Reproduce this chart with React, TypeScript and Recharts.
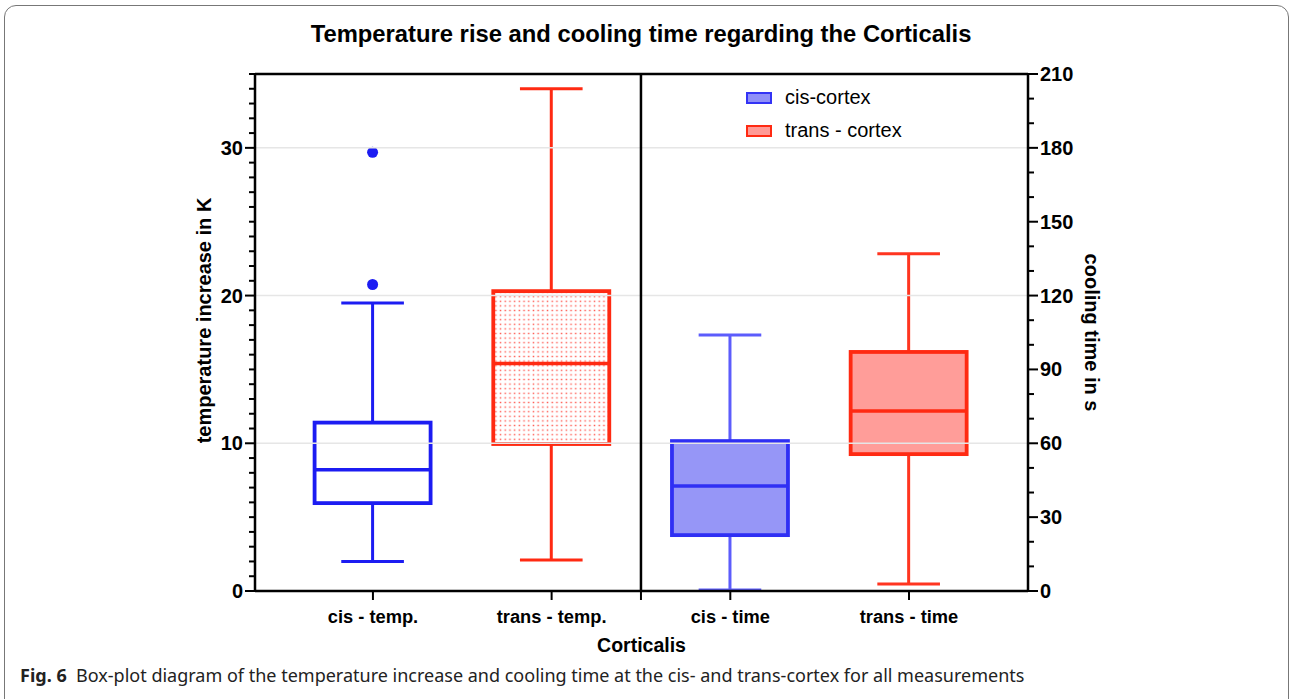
import React from 'react'
import { ComposedChart, Bar, XAxis, YAxis, ReferenceLine, Legend, Label } from 'recharts'

// box-plot values
const categories = ['cis - temp.', 'trans - temp.', 'cis - time', 'trans - time']
const sides = ['temp', 'temp', 'time', 'time']
const whiskerLow = [2.0, 2.1, 0.4, 2.8]
const quartile1 = [5.95, 9.95, 22.7, 55.6]
const medians = [8.2, 15.4, 42.6, 73.1]
const quartile3 = [11.4, 20.3, 60.9, 97.1]
const whiskerHigh = [19.5, 34.0, 104, 137]
const outliers = [[20.75, 29.7], [], [], []]

const leftTicks = [0, 1, 2, 3, 4, 5, 6, 7, 8, 9, 10, 11, 12, 13, 14, 15, 16, 17, 18, 19, 20, 21, 22, 23, 24, 25, 26, 27, 28, 29, 30, 31, 32, 33, 34, 35]
const leftLabels = [0, 10, 20, 30]
const rightTicks = [0, 10, 20, 30, 40, 50, 60, 70, 80, 90, 100, 110, 120, 130, 140, 150, 160, 170, 180, 190, 200, 210]
const rightLabels = [0, 30, 60, 90, 120, 150, 180, 210]
const gridValues = [10, 20, 30]
const legendItems = ['cis-cortex', 'trans - cortex']

const data = categories.map((name, i) => ({
  pos: i,
  name,
  side: sides[i],
  low: whiskerLow[i],
  q1: quartile1[i],
  median: medians[i],
  q3: quartile3[i],
  high: whiskerHigh[i],
  outliers: outliers[i],
  tempRange: sides[i] === 'temp' ? [whiskerLow[i], whiskerHigh[i]] : null,
  timeRange: sides[i] === 'time' ? [whiskerLow[i], whiskerHigh[i]] : null,
}))

const FONT = '"Liberation Sans", Arial, Helvetica, sans-serif'

const boxStyles = [
  { stroke: '#1c1cf2', whisker: '#1c1cf2', fill: '#ffffff' },
  { stroke: '#ff2a12', whisker: '#ff2a12', fill: 'url(#dotFill)' },
  { stroke: '#2f2ff4', whisker: '#5c5cfc', fill: '#9696f7' },
  { stroke: '#ff2a12', whisker: '#ff3520', fill: '#ff9d99' },
]
const legendStyles = [
  { stroke: '#3333f5', fill: '#8f8ff8' },
  { stroke: '#ff2a12', fill: '#ff9a96' },
]

function BoxShape(props: any) {
  const { x, y, width, height, payload, side } = props
  if (!payload || payload.side !== side || !isFinite(height) || height === 0) return <g />
  const st = boxStyles[payload.pos]
  const top = Math.min(y, y + height)
  const k = Math.abs(height) / (payload.high - payload.low)
  const py = (v: number) => top + (payload.high - v) * k
  const cx = x + width / 2
  const cap = width * 0.27
  return (
    <g>
      <defs>
        <pattern id="dotFill" width="4.7" height="4.6" patternUnits="userSpaceOnUse">
          <rect width="4.7" height="4.6" fill="#ffffff" />
          <rect x="1.6" y="1.6" width="1.5" height="1.4" fill="#ff5a50" />
        </pattern>
      </defs>
      <line x1={cx} x2={cx} y1={py(payload.high)} y2={py(payload.q3)} stroke={st.whisker} strokeWidth={3} />
      <line x1={cx} x2={cx} y1={py(payload.q1)} y2={py(payload.low)} stroke={st.whisker} strokeWidth={3} />
      <line x1={cx - cap} x2={cx + cap} y1={py(payload.high)} y2={py(payload.high)} stroke={st.whisker} strokeWidth={3} />
      <line x1={cx - cap} x2={cx + cap} y1={py(payload.low)} y2={py(payload.low)} stroke={st.whisker} strokeWidth={3} />
      <rect x={x} y={py(payload.q3)} width={width} height={py(payload.q1) - py(payload.q3)} fill={st.fill} stroke={st.stroke} strokeWidth={3.8} />
      <line x1={x} x2={x + width} y1={py(payload.median)} y2={py(payload.median)} stroke={st.stroke} strokeWidth={3.5} />
      {payload.outliers.map((v: number, j: number) => (
        <circle key={j} cx={cx} cy={py(v)} r={5.5} fill={st.stroke} />
      ))}
    </g>
  )
}

function LeftTick(props: any) {
  const { x, y, payload } = props
  const major = leftLabels.includes(payload.value)
  return (
    <g>
      <line x1={x} x2={x - (major ? 10 : 6)} y1={y} y2={y} stroke="#000" strokeWidth={2} />
      {major && (
        <text x={x - 12} y={y + 7} textAnchor="end" fontFamily={FONT} fontWeight="bold" fontSize={20} fill="#000">
          {payload.value}
        </text>
      )}
    </g>
  )
}

function RightTick(props: any) {
  const { x, y, payload } = props
  const major = rightLabels.includes(payload.value)
  return (
    <g>
      <line x1={x} x2={x + (major ? 10 : 6)} y1={y} y2={y} stroke="#000" strokeWidth={2} />
      {major && (
        <text x={x + 12} y={y + 7} textAnchor="start" fontFamily={FONT} fontWeight="bold" fontSize={20} fill="#000">
          {payload.value}
        </text>
      )}
    </g>
  )
}

function BottomTick(props: any) {
  const { x, y, payload } = props
  const label = Number.isInteger(payload.value) ? categories[payload.value] : ''
  return (
    <g>
      <line x1={x} x2={x} y1={y} y2={y + 9} stroke="#000" strokeWidth={2} />
      <text x={x} y={y + 32} textAnchor="middle" fontFamily={FONT} fontWeight="bold" fontSize={18.3} fill="#000">
        {label}
      </text>
    </g>
  )
}

function LegendBox() {
  return (
    <div style={{ fontFamily: FONT, fontSize: 20, color: '#000' }}>
      {legendItems.map((name, i) => (
        <div key={name} style={{ display: 'flex', alignItems: 'center', height: 33 }}>
          <div
            style={{
              width: 22,
              height: 8,
              background: legendStyles[i].fill,
              border: `2.5px solid ${legendStyles[i].stroke}`,
              marginRight: 13,
            }}
          />
          <span>{name}</span>
        </div>
      ))}
    </div>
  )
}

export default function App() {
  return (
    <div style={{ position: 'absolute', left: 0, top: 0, width: 1290, height: 699, overflow: 'hidden', background: '#fff' }}>
      <div
        style={{
          position: 'absolute',
          left: 4,
          top: 5,
          width: 1285,
          height: 710,
          border: '1.5px solid #777',
          borderRadius: 12,
          boxSizing: 'border-box',
        }}
      />
      <div
        style={{
          position: 'absolute',
          left: 0,
          width: 1282,
          top: 20,
          textAlign: 'center',
          fontFamily: FONT,
          fontWeight: 'bold',
          fontSize: 23.8,
          color: '#000',
        }}
      >
        Temperature rise and cooling time regarding the Corticalis
      </div>
      <div style={{ position: 'absolute', left: 0, top: 0 }}>
        <ComposedChart width={1290} height={699} data={data} margin={{ top: 74, right: 0, bottom: 68, left: 0 }}>
          <XAxis
            xAxisId="a"
            type="number"
            dataKey="pos"
            domain={[-0.66, 3.666]}
            ticks={[0, 1, 1.5, 2, 3]}
            interval={0}
            height={40}
            tickSize={0}
            tickMargin={0}
            tickLine={false}
            tick={<BottomTick />}
            axisLine={{ stroke: '#000', strokeWidth: 2.5 }}
          >
            <Label
              content={(p: any) => {
                const vb = p.viewBox
                return (
                  <text x={vb.x + vb.width / 2} y={vb.y + 61} textAnchor="middle" fontFamily={FONT} fontWeight="bold" fontSize={19.5} fill="#000">
                    Corticalis
                  </text>
                )
              }}
            />
          </XAxis>
          <XAxis xAxisId="b" type="number" dataKey="pos" domain={[-0.66, 3.666]} hide />
          <YAxis
            yAxisId="left"
            domain={[0, 35]}
            ticks={leftTicks}
            interval={0}
            width={255}
            tickSize={0}
            tickMargin={0}
            tickLine={false}
            tick={<LeftTick />}
            axisLine={{ stroke: '#000', strokeWidth: 2.5 }}
          >
            <Label
              content={(p: any) => {
                const vb = p.viewBox
                const cx = vb.x + vb.width - 51
                const cy = vb.y + vb.height / 2 - 12
                return (
                  <text x={cx} y={cy} transform={`rotate(-90 ${cx} ${cy})`} dy={7} textAnchor="middle" fontFamily={FONT} fontWeight="bold" fontSize={20} fill="#000">
                    temperature increase in K
                  </text>
                )
              }}
            />
          </YAxis>
          <YAxis
            yAxisId="right"
            orientation="right"
            domain={[0, 210]}
            ticks={rightTicks}
            interval={0}
            width={262}
            tickSize={0}
            tickMargin={0}
            tickLine={false}
            tick={<RightTick />}
            axisLine={{ stroke: '#000', strokeWidth: 2.5 }}
          >
            <Label
              content={(p: any) => {
                const vb = p.viewBox
                const cx = vb.x + 64
                const cy = vb.y + vb.height / 2
                return (
                  <text x={cx} y={cy} transform={`rotate(90 ${cx} ${cy})`} dy={7} textAnchor="middle" fontFamily={FONT} fontWeight="bold" fontSize={20} fill="#000">
                    cooling time in s
                  </text>
                )
              }}
            />
          </YAxis>
          {gridValues.map((v) => (
            <ReferenceLine key={v} xAxisId="a" yAxisId="left" y={v} stroke="#e6e6e6" strokeWidth={1.5} />
          ))}
          <ReferenceLine xAxisId="a" yAxisId="left" y={35} stroke="#000" strokeWidth={2.5} />
          <ReferenceLine xAxisId="a" yAxisId="left" x={1.5} stroke="#000" strokeWidth={2.5} />
          <Bar
            xAxisId="a"
            yAxisId="left"
            dataKey="tempRange"
            barSize={116}
            isAnimationActive={false}
            shape={(p: any) => <BoxShape {...p} side="temp" />}
          />
          <Bar
            xAxisId="b"
            yAxisId="right"
            dataKey="timeRange"
            barSize={116}
            isAnimationActive={false}
            shape={(p: any) => <BoxShape {...p} side="time" />}
          />
          <Legend
            layout="vertical"
            align="center"
            verticalAlign="middle"
            content={() => <LegendBox />}
            wrapperStyle={{ position: 'absolute', left: 746, top: 81, width: 'auto', height: 'auto' }}
          />
        </ComposedChart>
      </div>
      <div
        style={{
          position: 'absolute',
          left: 20,
          top: 663,
          fontFamily: '"Noto Sans", sans-serif',
          fontSize: 18,
          color: '#222',
          whiteSpace: 'nowrap',
        }}
      >
        <b>Fig. 6</b>&nbsp;&nbsp;Box-plot diagram of the temperature increase and cooling time at the cis- and trans-cortex for all measurements
      </div>
    </div>
  )
}
